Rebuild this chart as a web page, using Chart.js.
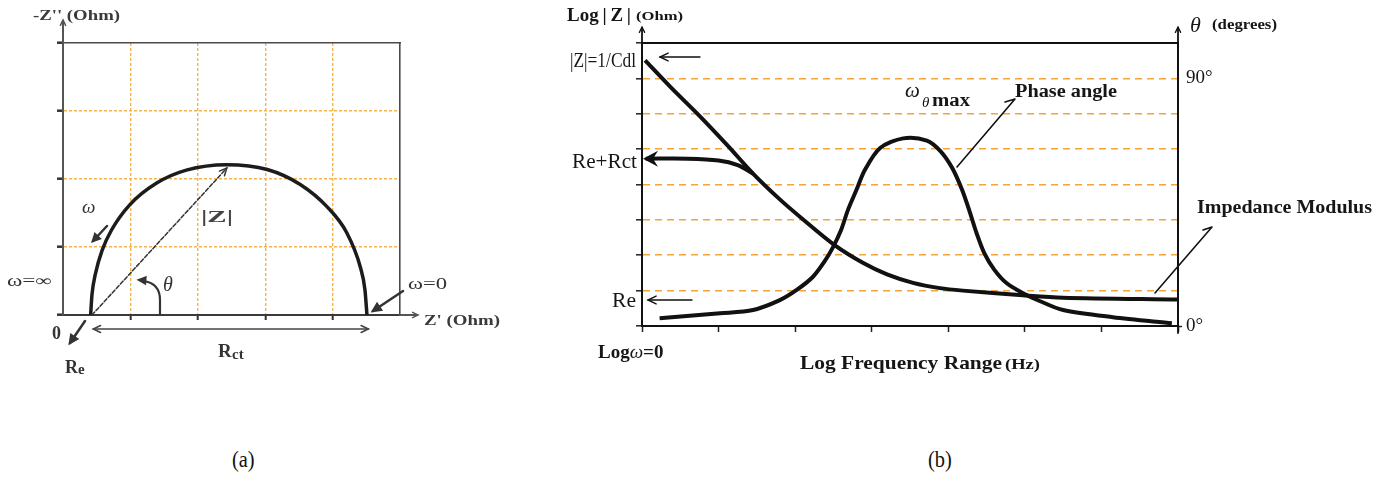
<!DOCTYPE html>
<html><head><meta charset="utf-8">
<script src="https://cdn.jsdelivr.net/npm/chart.js@4.4.1/dist/chart.umd.min.js"></script>
<style>
html,body{margin:0;padding:0;background:#fff}
#wrap{position:relative;width:1379px;height:495px;overflow:hidden;background:#fff}
canvas{position:absolute;top:0}
.cap{position:absolute;top:446px;font-family:'Liberation Serif',serif;font-size:24px;color:#111;transform:scaleX(0.85);transform-origin:left top}
</style></head><body><div id="wrap">
<canvas id="ca" width="520" height="400" style="left:0"></canvas>
<canvas id="cb" width="859" height="400" style="left:520px"></canvas>
<div class="cap" style="left:232px">(a)</div>
<div class="cap" style="left:928px">(b)</div>
</div>
<script>
// ---------- data ----------
// (a) Nyquist plot: Z' (Ohm) vs -Z'' (Ohm), grid units
const nyquistZre = [0.41,0.43,0.48,0.58,0.72,0.99,1.39,1.83,2.43,3.03,3.52,3.92,4.21,4.41,4.48,4.51];
const nyquistZim = [0.00,0.30,0.60,0.95,1.25,1.62,1.94,2.13,2.21,2.14,1.92,1.59,1.21,0.71,0.37,0.00];
const nyquistXTicks = [0,1,2,3,4,5];
const nyquistYTicks = [0,1,2,3,4];
// (b) Bode plot: log frequency (decades) vs log|Z| (grid units) and phase (degrees)
const modulusLogFreq = [0.04,0.37,0.76,1.11,1.45,1.80,2.10,2.52,2.89,3.20,3.54,3.89,4.19,4.97,5.50,7.00];
const modulusLogZ    = [7.51,6.76,5.92,5.12,4.31,3.58,3.02,2.28,1.78,1.46,1.22,1.07,1.00,0.87,0.80,0.75];
const reRctLogFreq = [0.05,0.60,1.00,1.25,1.45];
const reRctLogZ    = [4.73,4.73,4.68,4.55,4.31];
const phaseLogFreq = [0.23,1.02,1.45,1.80,2.02,2.23,2.38,2.49,2.60,2.69,2.80,2.91,3.11,3.41,3.72,3.90,4.05,4.18,4.28,4.37,4.47,4.60,4.76,4.97,5.20,5.50,6.15,6.92];
const phaseDeg     = [2.8,4.6,5.8,9.4,13.1,17.8,23.3,28.4,34.9,42.2,49.4,56.7,64.7,68.2,67.4,63.5,57.5,49.5,41.5,33.7,26.5,20.5,15.6,12.0,9.0,5.8,3.2,1.0];
const phaseTicks = [0, 90];
const phaseTickLabels = ['0°', '90°'];

// ---------- helpers ----------
const SERIF = "'Liberation Serif', 'DejaVu Serif', serif";
function txt(ctx, s, x, y, font, w, color) {
  ctx.save();
  ctx.font = font; ctx.fillStyle = color || '#151515';
  ctx.textBaseline = 'alphabetic'; ctx.textAlign = 'left';
  const m = ctx.measureText(s).width;
  ctx.translate(x, y); if (w) ctx.scale(w / m, 1);
  ctx.fillText(s, 0, 0);
  ctx.restore();
  return w || m;
}
function poly(ctx, pts, w, color, dash) {
  ctx.save(); ctx.lineWidth = w; ctx.strokeStyle = color; ctx.setLineDash(dash || []);
  ctx.lineCap = 'round'; ctx.lineJoin = 'round';
  ctx.beginPath(); ctx.moveTo(pts[0][0], pts[0][1]);
  for (let i = 1; i < pts.length; i++) ctx.lineTo(pts[i][0], pts[i][1]);
  ctx.stroke(); ctx.restore();
}
function head(ctx, x1, y1, x2, y2, len, w, color, filled) {
  const a = Math.atan2(y2 - y1, x2 - x1), s = 0.45;
  const p1 = [x2 - len * Math.cos(a - s), y2 - len * Math.sin(a - s)];
  const p2 = [x2 - len * Math.cos(a + s), y2 - len * Math.sin(a + s)];
  ctx.save(); ctx.strokeStyle = color; ctx.fillStyle = color; ctx.lineWidth = w; ctx.lineCap = 'round'; ctx.setLineDash([]);
  ctx.beginPath(); ctx.moveTo(p1[0], p1[1]); ctx.lineTo(x2, y2); ctx.lineTo(p2[0], p2[1]);
  if (filled) { ctx.closePath(); ctx.fill(); }
  ctx.stroke(); ctx.restore();
}
function arrow(ctx, x1, y1, x2, y2, w, color, len, filled) {
  poly(ctx, [[x1, y1], [x2, y2]], w, color);
  head(ctx, x1, y1, x2, y2, len, w, color, filled);
}
const clear = 'rgba(0,0,0,0)';

// ---------- (a) Nyquist ----------
const orangeA = '#f4b54c';
const annA = {
  id: 'annA',
  afterDraw(c) {
    const ctx = c.ctx, a = c.chartArea, X = c.scales.x, Y = c.scales.y;
    poly(ctx, [[a.left, a.top], [a.left, 21]], 2, '#555');
    head(ctx, a.left, 40, a.left, 20, 6, 1.5, '#555');
    poly(ctx, [[a.right, a.bottom], [417, a.bottom]], 2, '#555');
    head(ctx, 400, a.bottom, 418, a.bottom, 6, 1.5, '#555');
    const zx0 = X.getPixelForValue(0.43), zy0 = Y.getPixelForValue(0);
    const zx1 = X.getPixelForValue(2.43), zy1 = Y.getPixelForValue(2.16);
    poly(ctx, [[zx0, zy0], [zx1, zy1]], 1.5, '#333', [4, 2]);
    head(ctx, zx0, zy0, zx1, zy1, 8, 1.5, '#333');
    const rx0 = X.getPixelForValue(0.45), rx1 = X.getPixelForValue(4.53);
    poly(ctx, [[rx0, 329], [rx1, 329]], 1.6, '#444');
    head(ctx, rx1, 329, rx0, 329, 8, 1.6, '#444');
    head(ctx, rx0, 329, rx1, 329, 8, 1.6, '#444');
    arrow(ctx, 107, 226, 93, 241, 2.5, '#333', 7, true);
    arrow(ctx, 403, 291, 373, 311, 2.5, '#333', 8, true);
    arrow(ctx, 85, 321, 70, 343, 2.5, '#333', 8, true);
    ctx.save(); ctx.strokeStyle = '#333'; ctx.lineWidth = 2.2;
    ctx.beginPath(); ctx.moveTo(160, 315); ctx.lineTo(160, 300); ctx.quadraticCurveTo(160, 283, 143, 281); ctx.stroke(); ctx.restore();
    head(ctx, 152, 281, 139, 280, 7, 2.2, '#333', true);
    txt(ctx, "-Z'' (Ohm)", 33, 20, `bold 14px ${SERIF}`, 87, '#3a3a3a');
    txt(ctx, "Z' (Ohm)", 424, 325, `bold 15px ${SERIF}`, 76, '#3a3a3a');
    txt(ctx, '0', 52, 339, `bold 18px ${SERIF}`, 0, '#333');
    txt(ctx, 'R', 65, 373, `bold 18px ${SERIF}`, 0, '#333');
    txt(ctx, 'e', 78, 374, `bold 15px ${SERIF}`, 0, '#333');
    txt(ctx, 'R', 218, 357, `bold 19px ${SERIF}`, 0, '#333');
    txt(ctx, 'ct', 232, 359, `bold 15px ${SERIF}`, 0, '#333');
    txt(ctx, '|Z|', 201, 222, `bold 17px ${SERIF}`, 32, '#444');
    txt(ctx, 'ω', 82, 213, `italic 19px ${SERIF}`, 0, '#333');
    txt(ctx, 'ω=∞', 7, 286, `16px ${SERIF}`, 45, '#333');
    txt(ctx, 'ω=0', 408, 289, `17px ${SERIF}`, 39, '#333');
    txt(ctx, 'θ', 163, 291, `italic 20px ${SERIF}`, 0, '#333');
  }
};

new Chart(document.getElementById('ca'), {
  type: 'scatter',
  data: { datasets: [{
    label: 'Nyquist',
    data: nyquistZre.map((x, i) => ({ x, y: nyquistZim[i] })),
    showLine: true, borderColor: '#1c1c1c', borderWidth: 3.5, pointRadius: 0,
    cubicInterpolationMode: 'monotone', xAxisID: 'x', yAxisID: 'y', clip: 6
  }]},
  options: {
    responsive: false, animation: false, events: [],
    layout: { padding: { left: 53, right: 120, top: 43, bottom: 75 } },
    plugins: { legend: { display: false }, tooltip: { enabled: false } },
    scales: {
      x: { type: 'linear', axis: 'x', position: 'bottom',
        min: nyquistXTicks[0], max: nyquistXTicks[nyquistXTicks.length - 1],
        afterBuildTicks: s => { s.ticks = nyquistXTicks.map(v => ({ value: v })); },
        ticks: { display: false },
        grid: { color: c => (c.tick && c.tick.value > 0 && c.tick.value < 5) ? orangeA : clear, lineWidth: 1.4,
          drawTicks: true, tickLength: 5, tickWidth: 2,
          tickColor: c => (c.tick && c.tick.value > 0 && c.tick.value < 5) ? '#333' : clear },
        border: { display: true, color: '#3a3a3a', width: 2, dash: [3, 2] },
        afterFit: s => { s.height = 10; } },
      xT: { type: 'linear', axis: 'x', position: 'top', min: 0, max: 1,
        ticks: { display: false }, grid: { display: false, drawTicks: false },
        border: { display: true, color: '#4a4a4a', width: 1.6 },
        afterFit: s => { s.height = 0; } },
      y: { type: 'linear', axis: 'y', position: 'left',
        min: nyquistYTicks[0], max: nyquistYTicks[nyquistYTicks.length - 1],
        afterBuildTicks: s => { s.ticks = nyquistYTicks.map(v => ({ value: v })); },
        ticks: { display: false },
        grid: { color: c => (c.tick && c.tick.value > 0 && c.tick.value < 4) ? orangeA : clear, lineWidth: 1.4,
          drawTicks: true, tickLength: 6, tickWidth: 2.5, tickColor: '#333' },
        border: { display: true, color: '#555', width: 2, dash: [3, 2] },
        afterFit: s => { s.width = 10; } },
      yR: { type: 'linear', axis: 'y', position: 'right', min: 0, max: 1,
        ticks: { display: false }, grid: { display: false, drawTicks: false },
        border: { display: true, color: '#4a4a4a', width: 1.6 },
        afterFit: s => { s.width = 0; } }
    }
  },
  plugins: [annA]
});

// ---------- (b) Bode ----------
const orangeB = '#f2a63a';
const inkB = '#111';
const annB = {
  id: 'annB',
  afterDraw(c) {
    const ctx = c.ctx, a = c.chartArea, Y = c.scales.y;
    poly(ctx, [[a.left, a.top], [a.left, 28]], 1.8, inkB);
    head(ctx, a.left, 40, a.left, 27, 6, 1.3, inkB);
    poly(ctx, [[a.right, a.top], [a.right, 28]], 1.8, inkB);
    head(ctx, a.right, 40, a.right, 27, 6, 1.3, inkB);
    poly(ctx, [[a.right, a.bottom], [a.right, a.bottom + 7]], 1.8, inkB);
    const ty = Y.getPixelForValue(reRctLogZ[0]);
    ctx.save(); ctx.fillStyle = inkB; ctx.beginPath();
    ctx.moveTo(a.left + 1, ty); ctx.lineTo(a.left + 16, ty - 8); ctx.lineTo(a.left + 11, ty); ctx.lineTo(a.left + 16, ty + 8);
    ctx.closePath(); ctx.fill(); ctx.restore();
    arrow(ctx, 180, 57, 140, 57, 1.4, inkB, 9);
    arrow(ctx, 172, 300, 128, 300, 1.4, inkB, 9);
    poly(ctx, [[485, 102], [495, 99], [437, 167]], 1.6, inkB);
    poly(ctx, [[683, 230], [692, 227], [635, 293]], 1.6, inkB);
    txt(ctx, 'Log\u2009|\u2009Z\u2009|', 47, 21, `bold 19px ${SERIF}`, 64, '#161616');
    txt(ctx, '(Ohm)', 116, 20, `bold 13px ${SERIF}`, 47, '#161616');
    txt(ctx, '|Z|=1/Cdl', 50, 67, `21px ${SERIF}`, 66, '#161616');
    txt(ctx, 'Re+Rct', 52, 168, `21px ${SERIF}`, 65, '#161616');
    txt(ctx, 'Re', 92, 307, `21px ${SERIF}`, 24, '#161616');
    let x = 78;
    x += txt(ctx, 'Log', x, 358, `bold 19px ${SERIF}`, 0, '#161616');
    x += txt(ctx, 'ω', x, 358, `italic 19px ${SERIF}`, 0, '#161616');
    txt(ctx, '=0', x, 358, `bold 19px ${SERIF}`, 0, '#161616');
    txt(ctx, 'Log Frequency Range', 280, 369, `bold 19px ${SERIF}`, 202, '#161616');
    txt(ctx, '(Hz)', 485, 369, `bold 14px ${SERIF}`, 35, '#161616');
    txt(ctx, 'ω', 385, 97, `italic 21px ${SERIF}`, 0, '#161616');
    txt(ctx, 'θ', 402, 107, `italic 15px ${SERIF}`, 0, '#161616');
    txt(ctx, 'max', 412, 106, `bold 18px ${SERIF}`, 38, '#161616');
    txt(ctx, 'Phase angle', 495, 97, `bold 18px ${SERIF}`, 102, '#161616');
    txt(ctx, 'θ', 670, 32, `italic 22px ${SERIF}`, 0, '#161616');
    txt(ctx, '(degrees)', 692, 29, `bold 14px ${SERIF}`, 65, '#161616');
    txt(ctx, 'Impedance Modulus', 677, 213, `bold 19px ${SERIF}`, 175, '#161616');
  }
};

const lineDs = (label, xs, ys, yAxisID) => ({
  label, data: xs.map((x, i) => ({ x, y: ys[i] })), showLine: true,
  borderColor: inkB, borderWidth: 4, pointRadius: 0, tension: 0.3,
  xAxisID: 'x', yAxisID, clip: 4
});

new Chart(document.getElementById('cb'), {
  type: 'scatter',
  data: { datasets: [
    lineDs('Impedance Modulus', modulusLogFreq, modulusLogZ, 'y'),
    lineDs('Re+Rct', reRctLogFreq, reRctLogZ, 'y'),
    lineDs('Phase angle', phaseLogFreq, phaseDeg, 'y2')
  ]},
  options: {
    responsive: false, animation: false, events: [],
    layout: { padding: { left: 112, right: 151, top: 43, bottom: 64 } },
    plugins: { legend: { display: false }, tooltip: { enabled: false } },
    scales: {
      x: { type: 'linear', axis: 'x', position: 'bottom', min: 0, max: 7,
        ticks: { display: false, stepSize: 1 },
        grid: { drawOnChartArea: false, drawTicks: true, tickLength: 6, tickWidth: 1.5, tickColor: '#222' },
        border: { display: true, color: inkB, width: 2 },
        afterFit: s => { s.height = 10; } },
      xT: { type: 'linear', axis: 'x', position: 'top', min: 0, max: 1,
        ticks: { display: false }, grid: { display: false, drawTicks: false },
        border: { display: true, color: inkB, width: 2 },
        afterFit: s => { s.height = 0; } },
      y: { type: 'linear', axis: 'y', position: 'left', min: 0, max: 8,
        ticks: { display: false, stepSize: 1 },
        grid: { color: c => (c.tick && c.tick.value > 0 && c.tick.value < 8) ? orangeB : clear, lineWidth: 1.6,
          drawTicks: true, tickLength: 6, tickWidth: 1.5, tickColor: '#222' },
        border: { display: true, color: inkB, width: 2, dash: [7, 5] },
        afterFit: s => { s.width = 10; } },
      y2: { type: 'linear', axis: 'y', position: 'right', min: 0, max: 90 * 8 / 7,
        afterBuildTicks: s => { s.ticks = phaseTicks.map(v => ({ value: v })); },
        ticks: { callback: (v, i) => phaseTickLabels[i], font: { family: 'Liberation Serif', size: 19 }, color: '#161616', padding: 4 },
        grid: { drawOnChartArea: false, drawTicks: true, tickLength: 4, tickWidth: 1.5,
          tickColor: c => (c.tick && c.tick.value === 0) ? '#222' : clear },
        border: { display: true, color: inkB, width: 2 },
        afterFit: s => { s.width = 50; } }
    }
  },
  plugins: [annB]
});
</script>
</body></html>
